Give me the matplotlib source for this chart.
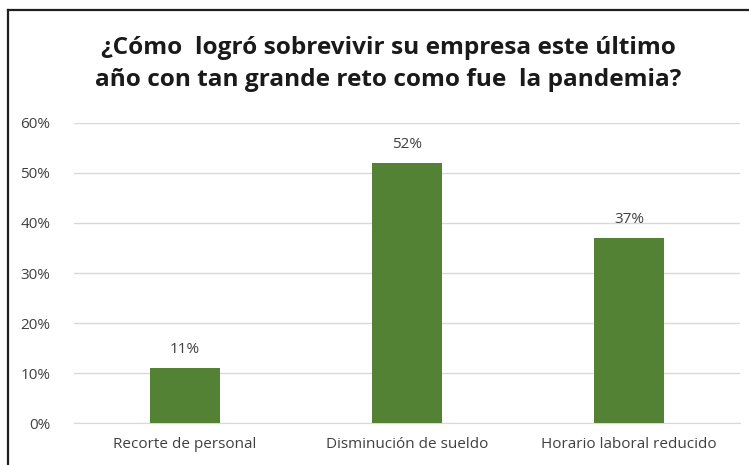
import matplotlib
matplotlib.use('Agg')
import matplotlib.pyplot as plt
from matplotlib.lines import Line2D
from matplotlib.ticker import FuncFormatter

categories = ['Recorte de personal', 'Disminución de sueldo', 'Horario laboral reducido']
values = [0.11, 0.52, 0.37]
yticks = [0, 0.1, 0.2, 0.3, 0.4, 0.5, 0.6]
title = '¿Cómo  logró sobrevivir su empresa este último\naño con tan grande reto como fue  la pandemia?'

plt.rcParams['font.family'] = ['Open Sans', 'DejaVu Sans']

fig = plt.figure(figsize=(7.49, 4.65), dpi=100)
ax = fig.add_axes([0.0988, 0.0903, 0.8892, 0.6452])

x = range(len(categories))
bars = ax.bar(x, values, width=0.315, color='#548235', zorder=3)

for xi, v in zip(x, values):
    ax.annotate('{:.0%}'.format(v), (xi, v), xytext=(0, 13), textcoords='offset points',
                ha='center', va='center', fontsize=11, color='#404040')

ax.set_xlim(-0.5, len(categories) - 0.5)
ax.set_ylim(0, 0.6)
ax.set_yticks(yticks)
ax.yaxis.set_major_formatter(FuncFormatter(lambda v, p: '{:.0%}'.format(v)))
ax.set_xticks(list(x))
ax.set_xticklabels(categories)
ax.grid(axis='y', color='#d9d9d9', linewidth=1, zorder=0)
for s in ['top', 'right', 'left']:
    ax.spines[s].set_visible(False)
ax.spines['bottom'].set_color('#d9d9d9')
ax.tick_params(axis='y', length=0, labelsize=11, colors='#404040', pad=17)
ax.tick_params(axis='x', length=0, labelsize=11, colors='#404040', pad=10)

fig.text(0.518, 0.862, title, ha='center', va='center', fontsize=17.6,
         fontweight='bold', color='#1a1a1a', linespacing=1.42)

# chart frame (left and top edges)
fig.add_artist(Line2D([8 / 749, 8 / 749], [0, 1 - 10 / 465], color='#202020', linewidth=1.6))
fig.add_artist(Line2D([8 / 749, 1], [1 - 10 / 465, 1 - 10 / 465], color='#202020', linewidth=1.6))

fig.savefig('out.png', dpi=100)
